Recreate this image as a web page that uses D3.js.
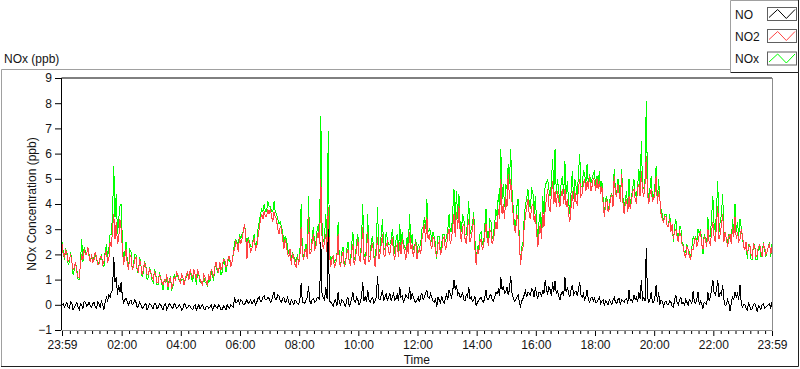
<!DOCTYPE html>
<html><head><meta charset="utf-8">
<script src="https://cdn.jsdelivr.net/npm/d3@7/dist/d3.min.js"></script>
<style>
body{margin:0;background:#fff}
svg{display:block}
text{font-family:"Liberation Sans",Arial,sans-serif;fill:#141414}
</style>
</head><body>
<svg id="chart" width="800" height="369"></svg>
<script>
// ---- data ----
// Samples every 5 minutes from 23:59 ("...On" arrays) and the readings taken
// half-way between them, at +2.5 min ("...Mid" arrays).
const stepMinutes = 2.5;
const seriesNames = ["NO", "NO2", "NOx"];
const no2On = [
2.4,1.9,2.0,1.8,1.7,1.5,1.3,1.1,2.0,2.2,2.0,1.9,
2.0,1.8,1.9,1.6,1.9,1.7,2.1,1.8,2.3,3.6,3.3,2.6,
3.0,1.6,2.2,1.4,1.9,1.5,1.9,1.3,1.6,1.4,1.5,1.2,
1.3,1.0,1.2,0.9,1.1,0.8,0.9,0.7,1.1,0.8,1.0,1.2,
0.9,1.1,1.0,1.3,1.4,1.1,1.2,1.4,1.0,0.8,1.1,0.8,
1.0,1.3,1.5,1.4,1.7,1.5,1.8,1.6,1.9,1.7,2.2,2.4,
2.7,2.6,3.2,1.8,2.4,2.2,2.6,2.3,3.0,3.6,3.7,3.5,
3.6,3.5,3.7,3.4,2.8,3.0,2.2,2.4,1.9,1.6,1.9,1.5,
1.6,3.1,1.8,2.2,3.5,2.1,2.8,2.3,2.9,5.0,2.2,2.8,
3.9,1.5,1.9,1.6,2.8,1.5,2.1,1.7,2.2,1.6,2.4,1.8,
2.6,1.7,3.1,1.6,2.9,1.8,2.4,1.5,2.7,2.0,2.8,1.9,
2.5,2.0,2.7,1.8,2.4,2.5,2.6,2.1,2.4,2.9,2.4,2.2,
1.8,2.2,2.6,3.2,3.5,2.8,2.2,2.6,1.9,2.5,2.1,2.7,
2.3,3.0,2.6,3.6,3.7,3.9,2.5,3.2,2.4,3.4,2.7,3.5,
1.6,2.0,2.6,2.3,3.2,2.4,2.9,2.6,3.3,3.8,5.0,4.0,
4.3,5.2,5.0,3.6,2.9,3.4,1.6,2.3,3.5,4.2,3.4,4.0,
3.6,2.3,3.2,3.7,3.8,4.6,3.7,4.9,4.5,4.5,3.9,4.6,
4.6,4.2,3.3,4.5,4.5,4.0,5.0,4.4,5.0,4.9,5.1,4.7,
4.9,5.0,4.9,4.7,3.5,4.2,3.8,4.4,5.1,4.3,4.4,5.2,
3.6,4.2,4.3,4.1,4.6,4.0,4.8,5.3,4.3,5.9,4.0,4.6,
4.2,5.1,4.5,3.6,3.3,3.5,3.1,2.9,2.6,3.0,2.5,2.8,
2.3,1.9,2.2,1.8,2.2,2.7,2.5,2.9,2.2,2.6,3.0,2.4,
3.3,2.5,3.9,2.8,3.6,2.9,2.3,2.8,3.1,3.5,2.9,2.6,
2.8,2.2,2.0,2.4,1.9,2.3,2.0,2.4,1.9,2.3,2.1,2.4,
2.3];
const no2Mid = [
2.0,2.2,1.7,2.0,1.4,1.7,1.1,1.6,1.8,2.0,2.3,1.7,
1.7,2.1,1.6,1.9,1.6,2.0,1.7,2.5,3.0,2.6,2.4,3.4,
2.2,1.9,1.6,2.0,1.4,1.8,1.4,1.8,1.2,1.7,1.2,1.4,
1.1,1.3,0.9,1.2,0.9,1.0,1.2,0.9,0.7,1.1,1.3,1.0,
1.2,0.8,1.2,1.0,1.2,1.4,1.0,1.2,0.9,1.2,0.9,1.2,
1.4,1.1,1.7,1.3,1.4,1.8,1.5,1.9,1.5,2.1,2.5,2.1,
2.4,2.9,2.8,2.6,2.1,2.5,2.2,2.7,3.4,3.4,3.5,3.8,
3.8,3.3,3.5,3.0,3.1,2.6,2.6,2.0,2.2,2.0,1.6,1.9,
1.9,2.0,2.1,1.8,2.0,2.5,2.2,2.7,2.4,2.6,2.5,2.1,
2.0,1.8,1.5,1.9,1.7,1.9,1.5,2.0,1.7,2.1,1.6,2.2,
1.9,2.3,1.8,2.1,1.7,2.3,1.9,2.1,1.8,2.4,2.0,2.4,
2.1,2.4,2.0,2.3,1.9,2.0,2.3,1.8,2.0,2.2,1.9,2.5,
2.1,2.0,2.9,2.5,2.6,2.4,2.7,2.1,2.4,2.0,2.6,2.2,
2.8,2.4,3.1,2.7,3.0,2.9,3.1,2.6,3.0,2.5,3.0,2.2,
2.2,2.5,2.2,2.8,2.5,3.0,2.4,2.9,3.0,3.4,3.6,3.4,
3.9,4.2,4.1,3.0,3.6,2.5,2.1,3.1,3.9,3.6,3.9,3.3,
2.9,2.8,2.6,3.1,4.2,3.9,4.4,4.0,3.9,4.1,4.4,4.0,
3.9,3.6,3.9,3.8,4.1,4.6,4.3,4.8,4.5,4.6,4.5,5.0,
4.5,4.6,4.4,4.0,4.0,3.7,4.2,3.9,4.4,4.8,4.1,4.1,
4.0,3.7,3.8,4.5,4.2,4.6,4.3,4.5,4.8,4.4,4.4,4.1,
4.4,4.0,4.2,3.4,3.5,3.1,3.4,3.2,2.9,2.7,2.9,2.4,
2.0,2.3,1.9,2.2,2.5,2.3,2.8,2.4,2.7,2.3,2.5,2.9,
2.7,3.2,2.6,3.2,2.5,2.6,2.7,2.4,2.7,2.6,2.5,3.0,
2.3,2.5,2.3,2.0,2.4,1.9,2.3,2.1,2.4,2.0,2.3,2.0];
const noOn = [
0.0,-0.1,0.1,-0.15,0.05,-0.1,0.1,-0.2,0.0,0.15,-0.05,0.1,
-0.1,0.1,-0.15,0.05,0.15,-0.2,0.3,0.4,0.5,1.9,1.1,0.8,
0.9,0.1,0.25,0.0,0.2,0.05,0.1,-0.05,0.0,-0.1,0.05,-0.1,
0.0,-0.15,0.05,-0.1,0.0,-0.2,0.05,-0.1,0.0,-0.15,0.0,-0.1,
-0.05,-0.15,0.0,-0.1,-0.05,-0.2,0.0,-0.1,-0.15,0.0,-0.2,-0.05,
-0.1,-0.2,0.0,-0.15,-0.05,-0.2,-0.1,0.0,-0.15,-0.05,0.3,0.1,
0.05,0.15,0.0,0.2,0.1,0.05,0.2,0.1,0.3,0.15,0.35,0.2,
0.25,0.15,0.5,0.2,0.35,0.1,0.3,0.15,0.1,0.2,0.0,0.15,
0.0,0.85,0.1,0.2,0.75,0.05,0.25,0.15,0.3,2.5,0.3,0.7,
3.0,0.1,-0.05,0.2,0.5,0.0,0.15,-0.1,0.3,0.05,0.5,0.1,
0.2,0.1,0.9,0.35,0.6,0.1,0.3,0.15,1.15,0.2,0.6,0.3,
0.15,0.45,0.3,0.2,0.4,0.7,0.35,0.2,0.3,0.7,0.45,0.15,
0.2,0.1,0.45,0.3,0.6,0.25,0.3,0.1,-0.1,0.2,0.35,0.05,
0.4,0.6,0.3,1.0,0.8,0.5,0.35,0.2,0.4,0.7,0.3,0.2,
-0.05,0.15,0.3,0.1,0.6,0.2,0.4,0.15,0.5,0.6,1.1,0.75,
0.5,0.4,1.15,0.3,0.2,0.4,-0.05,0.25,0.55,0.5,0.4,0.6,
0.7,0.25,0.5,0.6,1.0,0.45,0.6,0.9,0.95,0.55,0.2,0.5,
1.1,0.7,0.3,0.8,0.5,0.35,0.9,0.3,0.2,0.6,0.1,0.3,
0.25,0.1,0.3,0.15,-0.05,0.1,0.2,0.0,0.3,0.05,0.25,0.2,
0.1,0.25,0.6,0.2,0.4,0.3,0.5,1.0,0.3,2.25,0.1,0.5,
0.1,0.8,0.5,0.2,-0.05,0.15,0.0,0.1,-0.1,0.4,0.0,0.3,
0.1,0.2,0.0,0.15,0.55,0.05,0.5,0.15,-0.15,0.05,0.5,0.3,
1.0,0.4,1.0,0.5,0.8,-0.05,0.2,-0.25,0.3,0.5,0.45,0.8,
-0.1,0.0,-0.2,-0.05,-0.15,0.05,-0.25,-0.1,0.0,-0.15,-0.05,0.05,
0.1];
const noMid = [
0.05,0.0,-0.1,0.1,-0.2,0.0,-0.1,0.05,-0.15,0.1,0.0,-0.05,
0.05,-0.1,0.1,-0.1,0.0,0.1,0.15,0.3,0.6,0.9,0.4,0.5,
0.3,0.2,0.1,0.15,0.0,0.2,-0.1,0.1,-0.15,0.0,-0.2,0.05,
-0.1,0.05,-0.15,0.05,-0.1,0.0,-0.2,0.05,-0.1,0.05,-0.15,0.0,
-0.2,0.05,-0.15,0.0,-0.15,-0.05,-0.2,0.0,-0.05,-0.15,-0.05,-0.15,
0.0,-0.1,-0.1,0.0,-0.2,-0.05,-0.2,-0.1,0.0,-0.1,0.1,0.2,
0.2,0.0,0.1,0.05,0.2,0.1,0.0,0.25,0.15,0.3,0.2,0.3,
0.1,0.35,0.2,0.4,0.15,0.25,0.1,0.3,0.0,0.1,0.2,0.05,
0.2,0.1,0.05,0.3,0.15,0.2,0.1,0.3,0.2,0.35,0.2,0.25,
0.15,0.05,0.15,-0.05,0.1,0.2,0.05,0.2,-0.05,0.25,0.15,0.3,
0.0,0.3,0.15,0.1,0.2,0.25,0.05,0.3,0.25,0.4,0.15,0.45,
0.3,0.15,0.45,0.25,0.15,0.3,0.1,0.4,0.25,0.2,0.3,0.1,
0.3,0.35,0.2,0.45,0.3,0.45,0.15,0.25,0.3,0.05,0.15,0.25,
0.2,0.45,0.55,0.6,0.4,0.3,0.5,0.15,0.3,0.25,0.15,0.35,
0.1,0.25,0.15,0.3,0.2,0.35,0.2,0.3,0.45,0.35,0.6,0.45,
0.7,0.6,0.5,0.15,0.3,0.1,0.15,0.4,0.3,0.45,0.65,0.3,
0.4,0.5,0.3,0.45,0.6,0.7,0.35,0.5,0.45,0.35,0.45,0.35,
0.5,0.45,0.6,0.4,0.55,0.6,0.4,0.45,0.3,0.2,0.25,0.15,
0.1,0.2,0.05,0.2,0.15,0.0,0.1,0.2,0.1,0.2,0.0,0.15,
0.2,0.05,0.15,0.1,0.2,0.1,0.25,0.2,0.15,0.3,0.2,0.1,
0.3,0.1,0.0,0.15,0.1,0.0,0.15,-0.05,0.2,0.1,0.2,0.05,
0.0,0.1,0.2,0.05,0.1,0.2,0.0,0.05,0.1,0.0,0.15,0.6,
0.5,0.6,0.3,0.4,0.2,0.0,0.05,0.1,0.2,0.3,0.2,0.1,
0.0,-0.15,0.05,-0.2,0.0,-0.1,-0.05,-0.2,0.05,-0.1,0.0,-0.15];
const noxOn = [
2.5,1.8,2.1,1.7,1.7,1.4,1.4,1.0,2.6,2.3,2.0,2.0,
1.9,1.9,1.8,1.6,2.0,1.5,2.4,2.2,2.8,5.5,4.4,3.4,
4.0,1.7,2.5,1.4,2.1,1.6,2.0,1.3,1.6,1.3,1.6,1.1,
1.3,0.9,1.3,0.8,1.1,0.6,1.0,0.6,1.1,0.7,1.0,1.1,
0.9,1.0,1.0,1.2,1.4,0.9,1.2,1.3,0.9,0.8,0.9,0.7,
0.9,1.1,1.5,1.3,1.6,1.3,1.7,1.6,1.8,1.7,2.5,2.5,
2.8,2.8,3.2,2.0,2.5,2.3,2.8,2.4,3.3,3.8,4.0,3.7,
3.9,3.7,4.1,3.6,3.2,3.1,2.5,2.6,2.0,1.8,1.9,1.7,
1.6,4.0,1.9,2.4,4.3,2.2,3.1,2.5,3.2,7.5,2.5,3.6,
6.9,1.6,1.9,1.8,3.3,1.5,2.3,1.6,2.5,1.7,2.9,1.9,
2.8,1.8,4.0,1.9,3.6,1.9,2.7,1.6,3.9,2.2,3.4,2.2,
2.6,2.4,3.0,2.0,2.8,3.2,2.9,2.3,2.7,3.6,2.8,2.3,
2.0,2.3,3.0,3.5,4.2,3.0,2.5,2.7,1.8,2.7,2.4,2.8,
2.7,3.6,2.9,4.6,4.5,4.4,2.9,3.4,2.8,4.1,3.0,3.7,
1.6,2.2,2.9,2.4,3.8,2.6,3.3,2.8,3.8,4.4,6.2,4.8,
4.8,5.6,6.2,3.9,3.1,4.2,1.6,2.5,4.0,4.6,3.8,4.5,
4.3,2.5,3.7,4.3,4.8,5.0,4.3,5.8,6.2,5.0,4.1,5.1,
5.7,4.9,3.6,5.3,5.0,4.3,6.0,4.7,5.2,5.6,5.2,5.0,
5.3,5.1,5.3,4.9,3.5,4.3,4.0,4.4,5.4,4.4,4.7,5.4,
3.7,4.5,5.0,4.3,5.0,4.3,5.4,6.5,4.6,8.1,4.1,5.1,
4.3,5.5,5.0,3.8,3.3,3.6,3.1,3.0,2.5,3.4,2.5,3.1,
2.4,2.1,2.2,1.9,2.7,2.7,3.0,3.0,2.0,2.6,3.5,2.7,
4.3,2.9,4.9,3.3,4.4,2.9,2.5,2.6,3.4,4.0,3.3,3.4,
2.7,2.2,1.8,2.4,1.8,2.4,1.8,2.3,1.9,2.2,2.1,2.5,
2.4];
const noxMid = [
2.1,2.2,1.6,2.1,1.2,1.7,1.0,1.7,1.7,2.1,2.3,1.7,
1.8,2.0,1.7,1.8,1.6,2.1,1.9,2.8,3.6,3.5,2.8,3.9,
2.5,2.1,1.7,2.2,1.4,2.0,1.3,1.9,1.1,1.7,1.0,1.5,
1.0,1.4,0.8,1.3,0.8,1.0,1.0,1.0,0.6,1.2,1.2,1.0,
1.0,0.9,1.1,1.0,1.1,1.4,0.8,1.2,0.9,1.1,0.9,1.1,
1.4,1.0,1.6,1.3,1.2,1.8,1.3,1.8,1.5,2.0,2.6,2.3,
2.6,2.9,2.9,2.7,2.3,2.6,2.2,3.0,3.6,3.7,3.7,4.1,
3.9,3.7,3.7,3.4,3.3,2.9,2.7,2.3,2.2,2.1,1.8,2.0,
2.1,2.1,2.2,2.1,2.2,2.7,2.3,3.0,2.6,3.0,2.7,2.4,
2.2,1.9,1.7,1.9,1.8,2.1,1.6,2.2,1.7,2.4,1.8,2.5,
1.9,2.6,2.0,2.2,1.9,2.6,2.0,2.4,2.1,2.8,2.2,2.9,
2.4,2.6,2.5,2.6,2.1,2.3,2.4,2.2,2.3,2.4,2.2,2.6,
2.4,2.4,3.1,3.0,2.9,2.9,2.9,2.4,2.7,2.1,2.8,2.5,
3.0,2.9,3.7,3.3,3.4,3.2,3.6,2.8,3.3,2.8,3.2,2.6,
2.3,2.8,2.4,3.1,2.7,3.4,2.6,3.2,3.5,3.8,4.2,3.9,
4.6,4.8,4.6,3.2,3.9,2.6,2.3,3.5,4.2,4.1,4.6,3.6,
3.3,3.3,2.9,3.6,4.8,4.6,4.8,4.5,4.4,4.5,4.9,4.4,
4.4,4.1,4.5,4.2,4.7,5.2,4.7,5.3,4.8,4.8,4.8,5.2,
4.6,4.8,4.5,4.2,4.2,3.7,4.3,4.1,4.5,5.0,4.1,4.3,
4.2,3.8,4.0,4.6,4.4,4.7,4.6,4.7,5.0,4.7,4.6,4.2,
4.7,4.1,4.2,3.6,3.6,3.1,3.6,3.2,3.1,2.8,3.1,2.5,
2.0,2.4,2.1,2.3,2.6,2.5,2.8,2.5,2.8,2.3,2.7,3.5,
3.2,3.8,2.9,3.6,2.7,2.6,2.8,2.5,2.9,2.9,2.7,3.1,
2.3,2.4,2.4,1.8,2.4,1.8,2.3,1.9,2.5,1.9,2.3,1.9];
const yTickValues = [-1,0,1,2,3,4,5,6,7,8,9];
const xTickLabels = ["23:59","02:00","04:00","06:00","08:00","10:00","12:00","14:00","16:00","18:00","20:00","22:00","23:59"];
const titleText = "NOx (ppb)";
const yAxisTitle = "NOx Concentration (ppb)";
const xAxisTitle = "Time";

// interleave the on-step and half-step readings into one time-ordered list
const interleave = (on, mid) => on.flatMap((v, i) => i < mid.length ? [v, mid[i]] : [v]);
const no2 = interleave(no2On, no2Mid);
const no = interleave(noOn, noMid);
const nox = interleave(noxOn, noxMid);

// ---- styles ----
const colors = {NO:"#000000", NO2:"#ff4444", NOx:"#00ff00"};

const svg = d3.select("#chart");
const L = 61.5, R = 772, T = 78, B = 330;

const t0 = new Date(2020, 0, 1, 23, 59);
const t1 = d3.timeMinute.offset(t0, 1440);
const x = d3.scaleTime().domain([t0, t1]).range([L + 0.5, R]);
const y = d3.scaleLinear().domain([-1, 9]).range([B, T]);
const timeAt = i => new Date(+t0 + i * stepMinutes * 60000);

// outer frame
svg.append("path").attr("d", `M1.5,366 V69.5 H731`).attr("fill","none").attr("stroke","#a0a0a0");
svg.append("path").attr("d", `M1,366.5 H798.5 V72`).attr("fill","none").attr("stroke","#202020");

// title
svg.append("text").attr("x", 4).attr("y", 63).style("font-size","12px").text(titleText);

svg.append("defs").append("clipPath").attr("id","clip")
  .append("rect").attr("x", L).attr("y", T).attr("width", R - L).attr("height", B - T);

const majorDates = xTickLabels.map((lab, i) => {
  if (i === 0) return t0;
  if (i === xTickLabels.length - 1) return t1;
  const [hh, mm] = lab.split(":").map(Number);
  return new Date(2020, 0, 2, hh, mm);
});
const minorDates = d3.timeMinute.every(15).range(t0, t1)
  .filter(d => d.getMinutes() !== 0 || d.getHours() % 2 !== 0)
  .filter(d => Math.abs(d - t0) > 5 * 60000);

const gxMinor = svg.append("g").attr("transform", `translate(0,${B + 1})`)
  .call(d3.axisBottom(x).tickValues(minorDates).tickSize(3).tickFormat(""));
gxMinor.select(".domain").remove();
const gx = svg.append("g").attr("transform", `translate(0,${B + 1})`)
  .call(d3.axisBottom(x).tickValues(majorDates).tickSize(5).tickPadding(4)
    .tickFormat((d, i) => xTickLabels[i]));
gx.select(".domain").remove();
gx.selectAll("text").style("font-size","12px").attr("fill","#141414");
svg.selectAll(".tick line").attr("stroke","#000");

const gy = svg.append("g").attr("transform", `translate(${L - 0.5},0)`)
  .call(d3.axisLeft(y).tickValues(yTickValues).tickSize(6).tickPadding(3));
gy.select(".domain").remove();
gy.selectAll("text").style("font-size","12px").attr("fill","#141414");
gy.selectAll(".tick line").attr("stroke","#000");

// data lines (aliased like the original instrument display)
const line = d3.line().x((d, i) => x(timeAt(i))).y(d => y(d));
const plot = svg.append("g").attr("clip-path","url(#clip)");
[["NOx", nox], ["NO2", no2], ["NO", no]].forEach(([name, vals]) => {
  plot.append("path").datum(vals).attr("d", line)
    .attr("fill","none").attr("stroke", colors[name]).attr("stroke-width", 1)
    .attr("shape-rendering","crispEdges");
});

// plot border
svg.append("path").attr("d", `M${L},${B} V${T} H${R}`).attr("fill","none").attr("stroke","#000");
svg.append("path").attr("d", `M${L},${B+0.5} H${R+0.5} V${T}`).attr("fill","none").attr("stroke","#8c8c8c");

// axis titles
svg.append("text").attr("x", (L + R) / 2).attr("y", 364).attr("text-anchor","middle")
  .style("font-size","12px").text(xAxisTitle);
svg.append("text").attr("transform", `translate(36,${(T + B) / 2}) rotate(-90)`)
  .attr("text-anchor","middle").style("font-size","12px").text(yAxisTitle);

// legend
const lg = svg.append("g");
lg.append("rect").attr("x", 730.5).attr("y", -1).attr("width", 68).attr("height", 73.5)
  .attr("fill","#fff").attr("stroke","none");
lg.append("path").attr("d","M730.5,72 V0.5 H798.5").attr("fill","none").attr("stroke","#a0a0a0");
lg.append("path").attr("d","M730.5,72.5 H798.5 V0").attr("fill","none").attr("stroke","#202020");
const rowTop = [7.5, 29.5, 52];
seriesNames.forEach((name, i) => {
  const ry = rowTop[i];
  lg.append("text").attr("x", 735).attr("y", ry + 11).style("font-size","12px").text(name);
  lg.append("rect").attr("x", 767.5).attr("y", ry).attr("width", 29).attr("height", 13)
    .attr("fill","#fff").attr("stroke","#606060");
  const sx = d3.scaleLinear().domain([0, 3]).range([769, 795]);
  const pts = [[0, 10], [1, 2], [2, 11], [3, 2]].map(p => [sx(p[0]), ry + p[1]]);
  lg.append("path").attr("d", d3.line()(pts)).attr("fill","none")
    .attr("stroke", colors[name]).attr("stroke-width", 1);
});
</script>
</body></html>
